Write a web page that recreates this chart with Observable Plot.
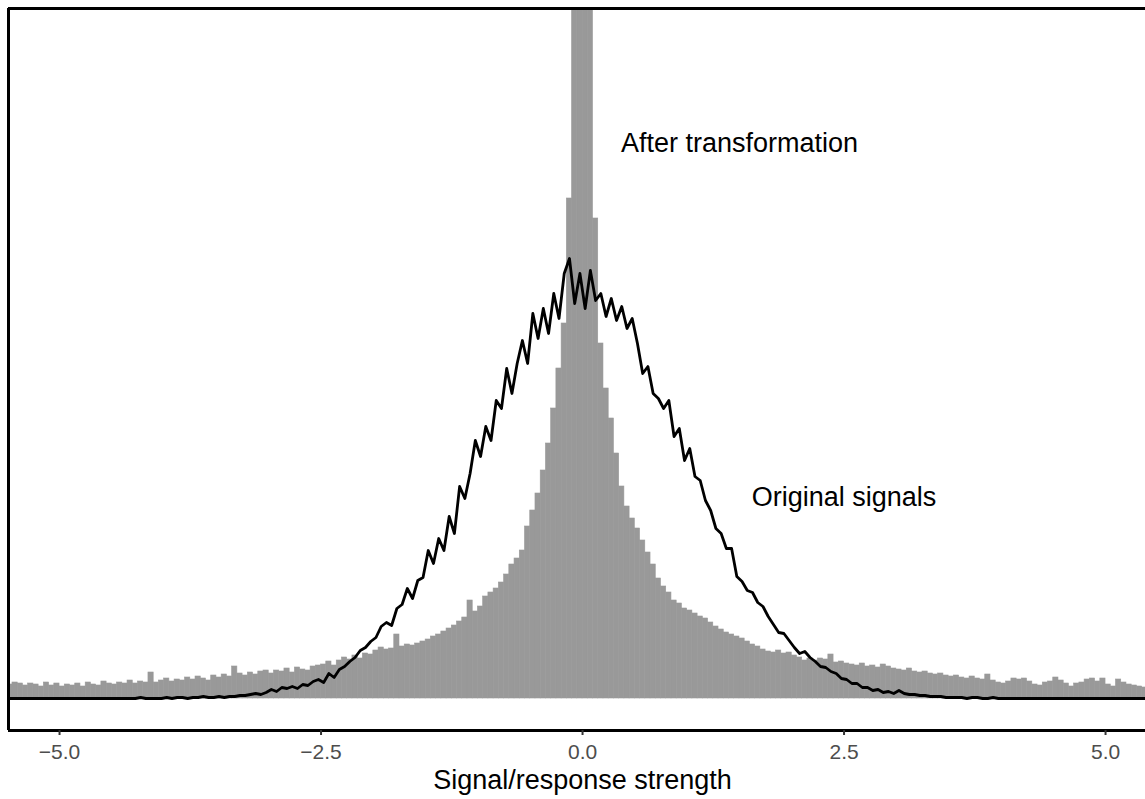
<!DOCTYPE html>
<html><head><meta charset="utf-8">
<script src="https://cdn.jsdelivr.net/npm/d3@7"></script>
<script src="https://cdn.jsdelivr.net/npm/@observablehq/plot@0.6"></script>
<style>html,body{margin:0;padding:0;background:#fff;overflow:hidden}</style>
</head><body><div id="chart"></div>
<script>
// Histogram bins: start and width (signal/response strength units)
const binStart = -5.5;
const binWidth = 0.05;

// Counts per bin, "After transformation" (grey histogram)
const afterTransformation = [
  14,16,15,13,15,14,12,16,13,15,
  12,14,13,15,12,16,14,13,17,15,
  14,16,15,18,15,17,16,26,16,18,
  20,17,19,18,21,19,22,20,18,23,
  21,24,22,32,25,23,26,24,27,28,
  25,28,27,30,26,31,29,28,32,33,
  34,37,33,38,41,39,43,40,45,44,
  48,51,49,50,64,52,54,53,55,57,
  59,62,64,67,70,73,77,81,98,87,
  92,102,106,110,116,124,134,140,148,172,
  188,205,228,255,290,330,375,500,900,1800,
  1800,900,480,355,310,280,245,212,192,180,
  170,158,146,134,120,112,106,98,95,90,
  88,85,82,80,76,72,69,66,64,62,
  60,57,54,52,49,47,46,48,45,46,
  43,41,38,40,38,40,39,44,36,37,
  35,34,33,35,32,33,31,34,32,30,
  29,28,30,27,26,27,25,24,25,23,
  22,23,21,20,22,20,19,24,18,16,
  15,17,20,19,20,17,14,13,16,17,
  21,18,15,12,15,16,19,20,17,20,
  14,12,19,16,14,13,12,11
];

// Counts per bin, "Original signals" (black frequency polygon)
const originalSignals = [
  0,0,0,0,0,0,0,0,0,0,
  0,0,0,0,0,0,0,0,0,0,
  0,0,0,0,0,1,0,0,0,0,
  1,0,1,1,0,1,1,2,1,1,
  2,1,2,2,3,3,4,5,4,6,
  9,7,11,10,12,10,14,13,17,19,
  16,25,21,29,32,37,41,48,51,57,
  61,72,76,73,90,94,110,100,118,121,
  148,135,160,148,182,165,212,200,225,258,
  242,272,258,298,290,330,305,335,358,335,
  385,360,390,365,405,380,425,440,395,425,
  390,428,398,405,382,400,378,392,370,380,
  355,325,332,305,300,290,298,262,270,238,
  250,222,218,198,188,170,165,150,150,122,
  117,108,106,96,92,82,74,66,65,58,
  51,45,47,41,37,32,31,27,25,20,
  19,15,15,11,11,8,9,6,7,5,
  8,5,4,4,3,3,2,2,2,1,
  1,1,1,0,1,1,0,0,1,0,
  0,0,0,0,0,0,0,0,0,0,
  0,0,0,0,0,0,0,0,0,0,
  0,0,0,0,0,0,0,0
];

const xTicks = [-5, -2.5, 0, 2.5, 5];
const xDomain = [-5.488, 5.382];
const yDomain = [-32, 690];

const annotationText = ["After transformation", "Original signals"];
const annotationX = [1.5, 2.5];
const annotationY = [555, 201];

const axisTitle = "Signal/response strength";

const greyBins = afterTransformation.map((v, i) => ({
  x1: binStart + i * binWidth,
  x2: binStart + (i + 1) * binWidth,
  y: v
}));
const blackPoly = originalSignals.map((v, i) => ({
  x: binStart + (i + 0.5) * binWidth,
  y: v
}));
const annotations = annotationText.map((t, i) => ({text: t, x: annotationX[i], y: annotationY[i]}));

const chart = Plot.plot({
  width: 1145,
  height: 799,
  marginLeft: 8,
  marginRight: 0,
  marginTop: 8,
  marginBottom: 69,
  style: {fontFamily: "'Liberation Sans', Arial, sans-serif", background: "#fff"},
  x: {domain: xDomain},
  y: {domain: yDomain, axis: null},
  marks: [
    Plot.rectY(greyBins, {x1: "x1", x2: "x2", y: "y", fill: "#999999", stroke: "#999999", strokeWidth: 0.6, inset: 0, clip: true}),
    Plot.line(blackPoly, {x: "x", y: "y", stroke: "#000", strokeWidth: 2.8, strokeLinejoin: "round", clip: true}),
    Plot.text(annotations, {x: "x", y: "y", text: "text", fontSize: 27, fill: "#000", textAnchor: "middle"}),
    Plot.ruleY(yDomain, {stroke: "#000", strokeWidth: 3}),
    Plot.ruleX([xDomain[0]], {stroke: "#000", strokeWidth: 3}),
    Plot.axisX(xTicks, {tickFormat: d3.format(".1f"), fontSize: 21, tickSize: 5, tickPadding: 9, stroke: "#333333", strokeWidth: 2, fill: "#4d4d4d", label: null}),
    Plot.text([axisTitle], {x: () => 0, frameAnchor: "bottom", dy: 58, text: d => d, fontSize: 27, fill: "#000", textAnchor: "middle"})
  ]
});
document.getElementById("chart").appendChild(chart);
</script>
</body></html>
